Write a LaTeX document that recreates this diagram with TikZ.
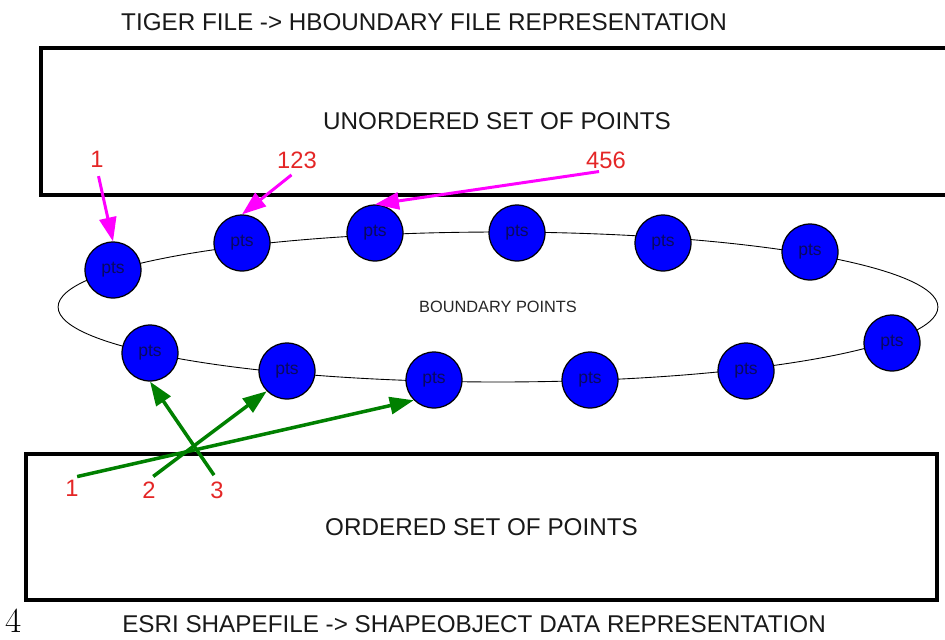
\documentclass[tikz,border=0pt]{standalone}
\usepackage{fontspec}
\newfontfamily\arialfont{Liberation Sans}
\usetikzlibrary{arrows.meta, positioning, shapes.geometric}

\definecolor{ptsblue}{RGB}{0,0,255}
\definecolor{ptsnavy}{RGB}{10,10,95}
\definecolor{idxred}{RGB}{228,38,38}
\definecolor{arrowpink}{RGB}{255,0,255}
\definecolor{arrowgreen}{RGB}{0,128,0}

\begin{document}
\begin{tikzpicture}
  [
    x=0.02cm, y=-0.02cm,
    heading/.style={text=black!90, font=\arialfont\fontsize{13.8}{16}\selectfont},
    setbox/.style={draw, line width=2.3pt, inner sep=0pt, text=black!90,
      font=\arialfont\fontsize{13.8}{16}\selectfont},
    boundary/.style={ellipse, draw, line width=0.5pt, inner sep=0pt,
      minimum width=17.6cm, minimum height=3cm, text=black!85,
      font=\arialfont\fontsize{9.3}{11}\selectfont},
    ptsnode/.style={circle, draw, line width=0.7pt, fill=ptsblue, inner sep=0pt,
      minimum size=1.12cm, text=ptsnavy, font=\arialfont\fontsize{10}{11}\selectfont},
    idx/.style={text=idxred, inner sep=1pt, font=\arialfont\fontsize{13.5}{16}\selectfont},
    pinkarrow/.style={draw=arrowpink, line width=1.7pt, shorten <=4pt,
      -{Triangle[length=4.8mm,width=3.4mm]}},
    greenarrow/.style={draw=arrowgreen, line width=2pt, shorten <=3pt,
      -{Triangle[length=4.8mm,width=3.4mm]}}
  ]
  \useasboundingbox (0,0) rectangle (945,639);

  \node[heading] (tiger) at (424,22) {TIGER FILE -> HBOUNDARY FILE REPRESENTATION};
  \node[heading] (esri) at (474,624) {ESRI SHAPEFILE -> SHAPEOBJECT DATA REPRESENTATION};
  \node[font=\fontsize{20}{22}\selectfont, inner sep=0pt] (pageno) at (14,621) {4};

  \node[setbox, minimum width=18.24cm, minimum height=2.94cm] (unordered) at (497,121.5)
    {UNORDERED SET OF POINTS};
  \node[setbox, minimum width=18.22cm, minimum height=2.92cm] (ordered) at (481.5,527)
    {ORDERED SET OF POINTS};

  \node[boundary] (bnd) at (498,307) {BOUNDARY POINTS};

  \foreach \n/\x/\y in {1/113/270, 2/242/243, 3/375/233, 4/517/233, 5/663/243, 6/810/252,
    7/892/343, 8/746/371, 9/590/380, 10/434/380, 11/287/371, 12/150/353}
    \node[ptsnode] (c\n) at (\x,\y) {pts};

  \node[idx] (t1) at (97,159) {1};
  \node[idx] (t2) at (297,160) {123};
  \node[idx] (t3) at (606,160) {456};
  \node[idx] (b1) at (72,488) {1};
  \node[idx] (b2) at (149,490) {2};
  \node[idx] (b3) at (217,490) {3};

  \draw[pinkarrow] (t1.south) -- (c1.north);
  \draw[pinkarrow] (t2.south) -- (c2.north);
  \draw[pinkarrow] (t3.south) -- (c3.north);

  \draw[greenarrow] (b1.north) -- (c10.south west);
  \draw[greenarrow] (b2.north) -- (c11.south west);
  \draw[greenarrow] (b3.north) -- (c12.south);
\end{tikzpicture}
\end{document}
